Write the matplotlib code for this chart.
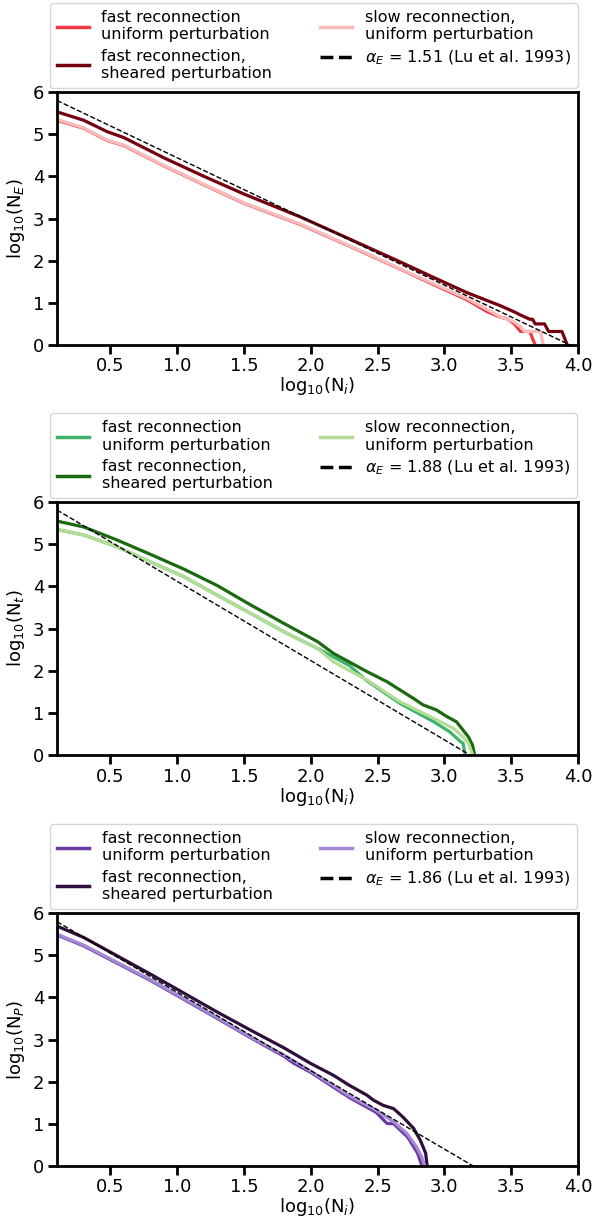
"""Cumulative size distributions for energy, duration and peak.

Three stacked panels, log10(N) vs log10(N_i), with
Lu et al. (1993) power-law slopes drawn as dashed lines."""

import matplotlib
matplotlib.use("Agg")
import matplotlib.pyplot as plt
from matplotlib.lines import Line2D
import numpy as np

# Energy panel.
E_fast_x = [0.10, 0.30, 0.475, 0.60, 0.90, 1.20, 1.50, 1.92, 2.30, 2.67, 2.90,
            3.17, 3.32, 3.42, 3.47, 3.52, 3.57, 3.64, 3.66, 3.68]
E_fast_y = [5.33, 5.14, 4.85, 4.73, 4.25, 3.80, 3.36, 2.86, 2.33, 1.80, 1.46,
            1.07, 0.79, 0.66, 0.62, 0.51, 0.32, 0.32, 0.15, 0.00]
E_shear_x = [0.10, 0.30, 0.475, 0.60, 0.90, 1.20, 1.50, 1.92, 2.30, 2.67, 2.90,
             3.17, 3.42, 3.52, 3.57, 3.64, 3.66, 3.68, 3.75, 3.78, 3.88, 3.92]
E_shear_y = [5.53, 5.33, 5.06, 4.92, 4.44, 4.00, 3.58, 3.04, 2.50, 1.97, 1.63,
             1.24, 0.93, 0.79, 0.71, 0.61, 0.61, 0.50, 0.50, 0.32, 0.32, 0.00]
E_slow_x = [0.10, 0.30, 0.475, 0.60, 0.90, 1.20, 1.50, 1.92, 2.30, 2.67, 2.90,
            3.17, 3.42, 3.52, 3.57, 3.60, 3.72, 3.74]
E_slow_y = [5.35, 5.15, 4.86, 4.74, 4.26, 3.81, 3.37, 2.87, 2.34, 1.81, 1.48,
            1.10, 0.67, 0.55, 0.43, 0.32, 0.32, 0.00]

# Duration panel.
T_fast_x = [0.10, 0.30, 0.55, 0.80, 1.05, 1.30, 1.55, 1.80, 2.05, 2.29, 2.42,
            2.67, 2.92, 3.04, 3.12, 3.14, 3.155]
T_fast_y = [5.35, 5.22, 4.94, 4.58, 4.23, 3.79, 3.36, 2.92, 2.53, 2.12, 1.76,
            1.22, 0.79, 0.55, 0.32, 0.28, 0.02]
T_shear_x = [0.10, 0.30, 0.55, 0.80, 1.05, 1.30, 1.55, 1.80, 2.05, 2.17, 2.42,
             2.57, 2.77, 2.84, 2.94, 3.02, 3.09, 3.14, 3.18, 3.21, 3.225]
T_shear_y = [5.55, 5.41, 5.10, 4.76, 4.41, 4.02, 3.56, 3.12, 2.69, 2.41, 1.98,
             1.74, 1.34, 1.19, 1.07, 0.91, 0.79, 0.59, 0.43, 0.24, 0.02]
T_slow_x = [0.10, 0.30, 0.55, 0.80, 1.05, 1.30, 1.55, 1.80, 2.05, 2.17, 2.42,
            2.67, 2.92, 3.07, 3.14, 3.18, 3.21]
T_slow_y = [5.35, 5.22, 4.94, 4.58, 4.23, 3.79, 3.36, 2.92, 2.53, 2.21, 1.78,
            1.26, 0.87, 0.63, 0.43, 0.28, 0.02]

# Peak panel.
P_fast_x = [0.10, 0.30, 0.80, 1.30, 1.55, 1.80, 1.87, 2.00, 2.29, 2.49, 2.57,
            2.62, 2.72, 2.74, 2.80, 2.83]
P_fast_y = [5.48, 5.22, 4.40, 3.50, 3.04, 2.60, 2.44, 2.22, 1.62, 1.27, 1.01,
            1.00, 0.70, 0.61, 0.30, 0.02]
P_shear_x = [0.10, 0.30, 0.80, 1.30, 1.55, 1.80, 2.00, 2.17, 2.29, 2.42, 2.47,
             2.54, 2.62, 2.69, 2.77, 2.82, 2.86, 2.87]
P_shear_y = [5.69, 5.42, 4.55, 3.65, 3.22, 2.80, 2.43, 2.15, 1.91, 1.68, 1.56,
             1.44, 1.36, 1.16, 0.89, 0.61, 0.30, 0.02]
P_slow_x = [0.10, 0.30, 0.80, 1.30, 1.55, 1.80, 2.00, 2.29, 2.49, 2.62, 2.72,
            2.79, 2.83, 2.85]
P_slow_y = [5.50, 5.24, 4.42, 3.52, 3.06, 2.63, 2.25, 1.66, 1.32, 1.05, 0.77,
            0.46, 0.22, 0.02]

# Lu et al. (1993) slopes and line intercepts.
alphas = [1.51, 1.88, 1.86]
intercepts = [5.95, 6.00, 5.98]
ylabels = [r"log$_{10}$(N$_E$)", r"log$_{10}$(N$_t$)", r"log$_{10}$(N$_P$)"]

colours = [("#ee3a43", "#76000f", "#f8bcbd"),
           ("#3db36b", "#1a6a10", "#b3dc95"),
           ("#6a3aa3", "#2e0f3b", "#a68ad6")]

curves = [(E_fast_x, E_fast_y, E_shear_x, E_shear_y, E_slow_x, E_slow_y),
          (T_fast_x, T_fast_y, T_shear_x, T_shear_y, T_slow_x, T_slow_y),
          (P_fast_x, P_fast_y, P_shear_x, P_shear_y, P_slow_x, P_slow_y)]

plt.rcParams["font.family"] = ["DejaVu Sans"]


def main():
    fig = plt.figure(figsize=(5.94, 12.19), dpi=100)
    bottoms = [0.717, 0.3806, 0.0435]

    for i in range(3):
        ax = fig.add_axes([0.096, bottoms[i], 0.877, 0.2075])
        c_fast, c_shear, c_slow = colours[i]
        fx, fy, sx, sy, lx, ly = curves[i]

        ax.plot(fx, fy, color=c_fast, lw=2.3)
        ax.plot(sx, sy, color=c_shear, lw=2.3)
        ax.plot(lx, ly, color=c_slow, lw=2.3)
        xd = np.array([0.1, 4.0])
        ax.plot(xd, intercepts[i] - alphas[i] * xd, "k--", lw=1)

        ax.set_xlim(0.1, 4.0)
        ax.set_ylim(0, 6)
        ax.set_xticks([0.5, 1.0, 1.5, 2.0, 2.5, 3.0, 3.5, 4.0])
        ax.set_yticks([0, 1, 2, 3, 4, 5, 6])
        ax.tick_params(labelsize=13, width=2, length=6.5, pad=2.5)
        for s in ax.spines.values():
            s.set_linewidth(2)
        ax.set_xlabel(r"log$_{10}$(N$_i$)", fontsize=13, labelpad=0)
        ax.set_ylabel(ylabels[i], fontsize=13, labelpad=4)

        # Legend handles drawn by hand so the dashed one is thicker.
        handles = [Line2D([], [], color=c_fast, lw=2.5),
                   Line2D([], [], color=c_shear, lw=2.5),
                   Line2D([], [], color=c_slow, lw=2.5),
                   Line2D([], [], color="k", lw=2.5, ls="--")]
        labels = ["fast reconnection\nuniform perturbation",
                  "fast reconnection,\nsheared perturbation",
                  "slow reconnection,\nuniform perturbation",
                  r"$\alpha_E$ = %.2f (Lu et al. 1993)" % alphas[i]]
        ax.legend(handles, labels, ncol=2, fontsize=11.5,
                  loc="lower center", bbox_to_anchor=(0.493, 1.016),
                  columnspacing=3.0, handlelength=2.0, handletextpad=0.8,
                  labelspacing=0.4, borderpad=0.42, borderaxespad=0.0)

    fig.savefig("out.png", dpi=100)


if __name__ == "__main__":
    main()
